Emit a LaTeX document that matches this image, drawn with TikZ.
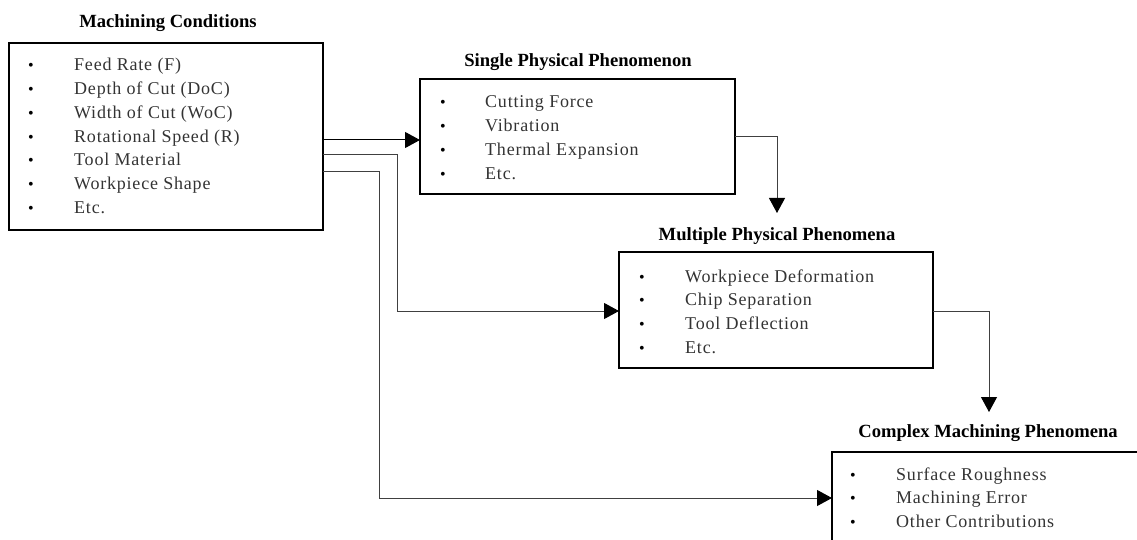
\documentclass[tikz,border=0pt]{standalone}
\usepackage{fontspec}
\setmainfont{Liberation Serif}
\newfontfamily\itemfont[LetterSpace=4.4]{Liberation Serif}
\usetikzlibrary{arrows.meta}
\begin{document}
\begin{tikzpicture}[x=1pt,y=-1pt,
  box/.style={draw=black,line width=1.8pt,inner sep=0pt,outer sep=0pt,fill=none},
  ttl/.style={anchor=base,inner sep=0pt,font=\fontsize{18.6}{22}\selectfont\bfseries,text=black},
  itm/.style={anchor=base west,inner sep=0pt,font=\fontsize{18}{22}\selectfont\itemfont,text=black!80},
  bul/.style={anchor=base,inner sep=0pt,font=\fontsize{16}{18}\selectfont,text=black},
  conn/.style={draw=black!75,line width=1pt,-{Triangle[length=15pt,width=16pt,fill=black,color=black]}}]
\useasboundingbox (0,0) rectangle (1137,540);
\clip (0,0) rectangle (1137,540);
% boxes
\node[box,minimum width=314pt,minimum height=187pt] (mc) at (166,136.5) {};
\node[box,minimum width=315pt,minimum height=115pt] (sp) at (577.5,136.5) {};
\node[box,minimum width=314pt,minimum height=116pt] (mp) at (776,310) {};
\node[box,minimum width=314pt,minimum height=116pt] (cm) at (989,510) {};
% titles
\node[ttl] (mct) at (168,28) {Machining Conditions};
\node[ttl] (spt) at (578,67) {Single Physical Phenomenon};
\node[ttl] (mpt) at (777,240) {Multiple Physical Phenomena};
\node[ttl] (cmt) at (988,437) {Complex Machining Phenomena};
% items
\foreach \t [count=\i] in {Feed Rate (F),Depth of Cut (DoC),Width of Cut (WoC),Rotational Speed (R),Tool Material,Workpiece Shape,Etc.}{
  \node[itm] (mc\i) at (74,{71+23.7*(\i-1)}) {\t};
  \node[bul] (mcb\i) at (31,{71+23.7*(\i-1)}) {•};
}
\foreach \t [count=\i] in {Cutting Force,Vibration,Thermal Expansion,Etc.}{
  \node[itm] (sp\i) at (485,{108+24*(\i-1)}) {\t};
  \node[bul] (spb\i) at (443,{108+24*(\i-1)}) {•};
}
\foreach \t [count=\i] in {Workpiece Deformation,Chip Separation,Tool Deflection,Etc.}{
  \node[itm] (mp\i) at (685,{282+23.7*(\i-1)}) {\t};
  \node[bul] (mpb\i) at (642,{282+23.7*(\i-1)}) {•};
}
\foreach \t [count=\i] in {Surface Roughness,Machining Error,Other Contributions}{
  \node[itm] (cm\i) at (896,{480+23.7*(\i-1)}) {\t};
  \node[bul] (cmb\i) at (853,{480+23.7*(\i-1)}) {•};
}
% connectors
\coordinate (t1) at (777,213);
\coordinate (t2) at (989,412);
\draw[conn,draw=black] (mc.east |- 0,140) -- (sp.west |- 0,140);
\draw[conn] (mc.east |- 0,155) -- (397,155) |- (mp.west |- 0,311);
\draw[conn] (mc.east |- 0,172) -- (379,172) |- (cm.west |- 0,498);
\draw[conn] (sp.east |- 0,137) -| (t1);
\draw[conn] (mp.east |- 0,311) -| (t2);
\end{tikzpicture}
\end{document}
